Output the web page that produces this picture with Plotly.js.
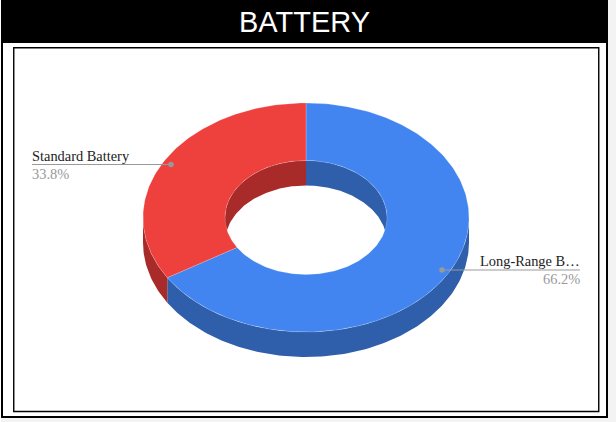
<!DOCTYPE html>
<html>
<head>
<meta charset="utf-8">
<script src="https://cdn.plot.ly/plotly-3.0.1.min.js"></script>
<style>html,body{margin:0;padding:0;background:#f3f3f3;overflow:hidden}#chart{width:616px;height:422px}</style>
</head>
<body>
<div id="chart"></div>
<script>
// Data
const chartTitle = 'BATTERY';
const sliceLabels = ['Long-Range B\u2026', 'Standard Battery'];
const sliceShares = [66.2, 33.8];
const topColors = ['#4285F0', '#EE403D'];
const wallColors = ['#2F5FAA', '#A82B2A'];

// Donut geometry (pixels of the 616x422 page)
const cx = 306, cy = 217.5, rxOut = 163, ryOut = 114.5, rxIn = 81, ryIn = 57, depth = 25;

const pt = (deg, rx, ry, dy) => {
  const t = deg * Math.PI / 180;
  return [cx + rx * Math.sin(t), cy - ry * Math.cos(t) + dy];
};
function arc(a0, a1, rx, ry, dy) {
  const n = Math.max(2, Math.ceil(Math.abs(a1 - a0)));
  const out = [];
  for (let i = 0; i <= n; i++) out.push(pt(a0 + (a1 - a0) * i / n, rx, ry, dy));
  return out;
}
function poly(points, fill, line) {
  const xs = points.map(p => p[0]), ys = points.map(p => p[1]);
  xs.push(xs[0]); ys.push(ys[0]);
  return {
    type: 'scatter', mode: 'lines', x: xs, y: ys, fill: 'toself', fillcolor: fill,
    line: line || {width: 0}, hoverinfo: 'skip', showlegend: false
  };
}
function overlap(a0, a1, b0, b1) {
  const s = Math.max(a0, b0), e = Math.min(a1, b1);
  return e > s ? [s, e] : null;
}

const total = sliceShares.reduce((a, b) => a + b, 0);
const spans = [];
let acc = 0;
sliceShares.forEach(v => { spans.push([acc, acc + v / total * 360]); acc += v / total * 360; });

const traces = [];
// inner (back) walls of the hole, then outer (front) walls, then top faces
spans.forEach((s, i) => {
  [[0, 90], [270, 360]].forEach(w => {
    const o = overlap(s[0], s[1], w[0], w[1]);
    if (o) traces.push(poly(arc(o[0], o[1], rxIn, ryIn, 0).concat(arc(o[1], o[0], rxIn, ryIn, depth)), wallColors[i]));
  });
});
spans.forEach((s, i) => {
  const o = overlap(s[0], s[1], 90, 270);
  if (o) traces.push(poly(arc(o[0], o[1], rxOut, ryOut, 0).concat(arc(o[1], o[0], rxOut, ryOut, depth)), wallColors[i]));
});
spans.forEach((s, i) => {
  traces.push(poly(arc(s[0], s[1], rxOut, ryOut, 0).concat(arc(s[1], s[0], rxIn, ryIn, 0)), topColors[i],
    {width: 0.7, color: 'rgba(255,255,255,0.28)'}));
});

// leader lines and dots
const leaders = [
  {x: [442, 580], y: [270, 270]},
  {x: [171, 32], y: [164.5, 164.5]}
];
leaders.forEach(l => {
  traces.push({type: 'scatter', mode: 'lines', x: l.x, y: l.y, line: {color: '#999999', width: 1.2}, hoverinfo: 'skip', showlegend: false});
  traces.push({type: 'scatter', mode: 'markers', x: [l.x[0]], y: [l.y[0]], marker: {color: '#999999', size: 5.5}, hoverinfo: 'skip', showlegend: false});
});

const rect = (x0, y0, x1, y1, fill, line) => ({
  type: 'rect', xref: 'x', yref: 'y', x0, y0, x1, y1, layer: 'below',
  fillcolor: fill, line: line || {width: 0}
});
const serif = '"Liberation Serif", "Times New Roman", serif';
const note = (x, y, text, anchor, color) => ({
  xref: 'x', yref: 'y', x, y, text, showarrow: false, xanchor: anchor, yanchor: 'middle',
  align: anchor, font: {family: serif, size: 14.4, color}, borderpad: 0, borderwidth: 0
});

const layout = {
  width: 616, height: 422,
  margin: {l: 0, r: 0, t: 0, b: 0, pad: 0},
  paper_bgcolor: '#f3f3f3', plot_bgcolor: 'rgba(0,0,0,0)',
  xaxis: {range: [0, 616], visible: false, fixedrange: true},
  yaxis: {range: [422, 0], visible: false, fixedrange: true},
  showlegend: false,
  shapes: [
    rect(0, 0, 1, 422, '#ffffff'),
    rect(2, 1, 607, 417, '#ffffff', {color: '#000000', width: 2}),
    rect(1, 0, 608, 43, '#000000'),
    rect(13.75, 47.75, 598.75, 411.5, '#ffffff', {color: '#000000', width: 1.4})
  ],
  annotations: [
    {xref: 'x', yref: 'y', x: 304, y: 21.5, text: chartTitle, showarrow: false, xanchor: 'center', yanchor: 'middle',
     font: {family: '"Liberation Sans", Arial, sans-serif', size: 29, color: '#ffffff'}},
    note(580, 261, sliceLabels[0], 'right', '#222222'),
    note(580, 279, sliceShares[0].toFixed(1) + '%', 'right', '#999999'),
    note(32, 156, sliceLabels[1], 'left', '#222222'),
    note(32, 173.5, sliceShares[1].toFixed(1) + '%', 'left', '#999999')
  ]
};
Plotly.newPlot('chart', traces, layout, {staticPlot: true, displayModeBar: false});
</script>
</body>
</html>
